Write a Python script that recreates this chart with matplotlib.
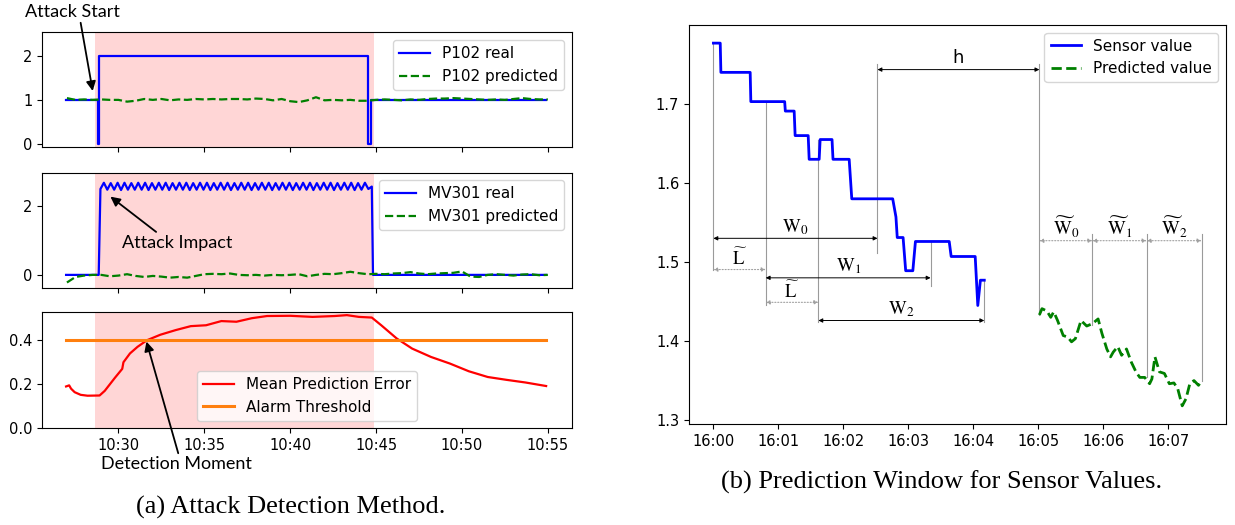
import numpy as np
import matplotlib
matplotlib.use("Agg")
import matplotlib.pyplot as plt
import matplotlib.dates as mdates

plt.rcParams['font.family'] = ['DejaVu Sans']
plt.rcParams['mathtext.fontset'] = 'stix'

# ---------------- data, panel (a): time in minutes after 10:00 ----------------
p102_real_t = [26.95, 28.78, 28.78, 28.89, 28.89, 44.53, 44.53, 44.71, 44.71, 54.9]
p102_real_v = [1, 1, 0, 0, 2, 2, 0, 0, 1, 1]

pred_t = np.arange(27.0, 55.01, 0.5)
p102_pred_v = [1.04, 1.00, 1.01, 1.00, 1.01, 1.00, 1.00, 0.96, 0.98, 1.02,
               1.00, 1.02, 0.99, 1.01, 1.00, 1.02, 1.01, 1.02, 1.01, 1.02,
               1.02, 1.01, 1.03, 1.02, 0.99, 1.02, 0.97, 0.95, 0.99, 1.06,
               0.99, 1.00, 0.99, 1.00, 0.98, 0.98, 1.00, 1.01, 1.00, 0.99,
               1.01, 1.00, 1.02, 1.03, 1.03, 1.04, 1.03, 1.02, 1.01, 1.00,
               1.01, 1.00, 1.02, 1.04, 1.02, 1.01, 1.01]

mv301_zig_t = np.arange(28.95, 44.76, 0.2)
mv301_zig_v = [2.48, 2.66, 2.46, 2.65, 2.46, 2.66, 2.45, 2.66, 2.46, 2.65,
               2.46, 2.66, 2.46, 2.66, 2.45, 2.65, 2.46, 2.66, 2.46, 2.66,
               2.45, 2.65, 2.46, 2.66, 2.46, 2.66, 2.45, 2.65, 2.46, 2.66,
               2.46, 2.66, 2.45, 2.65, 2.46, 2.66, 2.46, 2.66, 2.45, 2.65,
               2.46, 2.66, 2.46, 2.66, 2.45, 2.65, 2.46, 2.66, 2.46, 2.66,
               2.45, 2.65, 2.46, 2.66, 2.46, 2.66, 2.45, 2.65, 2.46, 2.66,
               2.46, 2.66, 2.45, 2.65, 2.46, 2.66, 2.46, 2.66, 2.45, 2.65,
               2.46, 2.66, 2.46, 2.66, 2.45, 2.65, 2.46, 2.66, 2.48, 2.55]
mv301_pre_t = [26.95, 28.85]
mv301_pre_v = [0.0, 0.0]
mv301_post_t = [44.82, 54.9]
mv301_post_v = [0.0, 0.0]

mv301_pred_v = [-0.22, -0.06, -0.02, 0.00, 0.00, -0.04, -0.02, 0.02, -0.03, -0.06,
                -0.03, -0.05, -0.08, -0.06, -0.08, -0.03, 0.02, 0.03, 0.02, 0.04,
                0.00, -0.01, 0.00, -0.02, 0.00, -0.01, 0.00, 0.02, -0.04, 0.00,
                0.03, 0.02, 0.05, 0.09, 0.05, 0.02, 0.03, 0.02, 0.04, 0.05,
                0.08, 0.04, 0.02, 0.04, 0.05, 0.06, 0.10, -0.05, -0.06, 0.00,
                0.02, 0.00, -0.02, 0.01, 0.02, -0.01, 0.00]

err_t = [26.95, 27.13, 27.24, 27.45, 27.80, 28.20, 28.90, 29.20, 29.80, 30.22,
         30.29, 30.67, 31.11, 31.66, 32.44, 33.33, 34.21, 35.10, 35.99, 36.87,
         37.76, 38.65, 40.00, 41.30, 42.60, 43.30, 44.00, 44.75, 45.30, 46.20,
         47.10, 48.20, 49.30, 50.40, 51.50, 52.60, 53.70, 54.90]
err_v = [0.190, 0.195, 0.180, 0.164, 0.152, 0.148, 0.149, 0.170, 0.230, 0.270,
         0.300, 0.340, 0.370, 0.400, 0.425, 0.446, 0.464, 0.468, 0.487, 0.484,
         0.500, 0.510, 0.511, 0.506, 0.510, 0.514, 0.506, 0.503, 0.468, 0.408,
         0.362, 0.324, 0.294, 0.259, 0.233, 0.220, 0.208, 0.192]
threshold_t = [26.95, 54.9]
threshold_v = [0.4, 0.4]
attack_span = (28.63, 44.86)

# ---------------- data, panel (b): minutes after 16:00 ----------------
sensor_t = [0, 0.105, 0.115, 0.566, 0.576, 1.097, 1.107, 1.243, 1.258, 1.459,
            1.474, 1.628, 1.643, 1.826, 1.841, 2.09, 2.13, 2.76, 2.81, 2.83,
            2.92, 2.96, 3.07, 3.11, 3.63, 3.66, 4.03, 4.07, 4.11, 4.17]
sensor_v = [1.777, 1.777, 1.740, 1.740, 1.703, 1.703, 1.691, 1.691, 1.660, 1.660,
            1.630, 1.630, 1.655, 1.655, 1.630, 1.630, 1.580, 1.580, 1.557, 1.531,
            1.531, 1.489, 1.489, 1.526, 1.526, 1.507, 1.507, 1.445, 1.477, 1.477]
predicted_t = [5.018, 5.058, 5.134, 5.193, 5.239, 5.298, 5.385, 5.455, 5.513, 5.572,
               5.659, 5.747, 5.834, 5.922, 5.980, 6.056, 6.114, 6.155, 6.225, 6.284,
               6.359, 6.435, 6.505, 6.564, 6.639, 6.715, 6.750, 6.797, 6.867, 6.943,
               7.019, 7.089, 7.147, 7.217, 7.275, 7.334, 7.398, 7.468, 7.515]
predicted_v = [1.433, 1.441, 1.438, 1.430, 1.437, 1.426, 1.407, 1.405, 1.399, 1.403,
               1.426, 1.419, 1.422, 1.428, 1.410, 1.390, 1.380, 1.386, 1.393, 1.382,
               1.390, 1.373, 1.361, 1.354, 1.354, 1.346, 1.352, 1.380, 1.361, 1.359,
               1.346, 1.347, 1.340, 1.318, 1.327, 1.346, 1.350, 1.344, 1.350]

# window annotations: (start, end, y, label)
w_spans = [(0.0, 2.526, 1.530, r'$\mathrm{W}_0$'),
           (0.805, 3.343, 1.480, r'$\mathrm{W}_1$'),
           (1.616, 4.17, 1.426, r'$\mathrm{W}_2$')]
l_spans = [(0.0, 0.805, 1.4905, r'$\widetilde{\mathrm{L}}$'),
           (0.805, 1.616, 1.449, r'$\widetilde{\mathrm{L}}$')]
h_span = (2.526, 5.018, 1.7435, 'h')
wt_spans = [(5.018, 5.834, 1.527, r'$\widetilde{\mathrm{W}}_0$'),
            (5.834, 6.669, 1.527, r'$\widetilde{\mathrm{W}}_1$'),
            (6.669, 7.515, 1.527, r'$\widetilde{\mathrm{W}}_2$')]
guides = [(0.0, 1.490, 1.777), (0.805, 1.445, 1.703), (1.616, 1.424, 1.655),
          (2.526, 1.511, 1.751), (3.343, 1.470, 1.526), (4.17, 1.424, 1.477),
          (5.018, 1.433, 1.751), (5.834, 1.420, 1.535), (6.669, 1.354, 1.535),
          (7.515, 1.350, 1.535)]


def T(hour, mins):
    base = np.datetime64('2019-01-01T%02d:00' % hour)
    ms = np.round(np.asarray(mins, dtype=float) * 60000).astype('timedelta64[ms]')
    return mdates.date2num(base + ms)


fig = plt.figure(figsize=(12.35, 5.25), dpi=100)
W, H = 1235, 525

ax1 = fig.add_axes([0.0340, 0.7194, 0.4291, 0.2187])
ax2 = fig.add_axes([0.0340, 0.452, 0.4291, 0.219], sharex=ax1)
ax3 = fig.add_axes([0.0340, 0.1842, 0.4291, 0.221], sharex=ax1)
axr = fig.add_axes([0.5579, 0.1924, 0.4348, 0.760])

span_kw = dict(color='red', alpha=0.16, lw=0)
for ax in (ax1, ax2, ax3):
    ax.axvspan(T(10, attack_span[0]), T(10, attack_span[1]), **span_kw)

ax1.plot(T(10, p102_real_t), p102_real_v, color='blue', lw=1.6, label='P102 real')
ax1.plot(T(10, pred_t), p102_pred_v, color='green', ls='--', lw=1.6, label='P102 predicted')
ax1.set_ylim(-0.07, 2.52)
ax1.set_yticks([0, 1, 2])
ax1.legend(loc='upper right', fontsize=11)

mv_t = np.concatenate([mv301_pre_t, mv301_zig_t, mv301_post_t])
mv_v = np.concatenate([mv301_pre_v, mv301_zig_v, mv301_post_v])
ax2.plot(T(10, mv_t), mv_v, color='blue', lw=1.6, label='MV301 real')
ax2.plot(T(10, pred_t), mv301_pred_v, color='green', ls='--', lw=1.6, label='MV301 predicted')
ax2.set_ylim(-0.37, 2.95)
ax2.set_yticks([0, 2])
ax2.legend(loc='upper right', fontsize=11)

ax3.plot(T(10, err_t), err_v, color='red', lw=1.6, label='Mean Prediction Error')
ax3.plot(T(10, threshold_t), threshold_v, color='C1', lw=2.2, label='Alarm Threshold')
ax3.set_ylim(0, 0.527)
ax3.set_yticks([0.0, 0.2, 0.4])
ax3.legend(loc='lower center', fontsize=11)

ax3.xaxis_date()
ax3.xaxis.set_major_locator(mdates.MinuteLocator(byminute=range(0, 60, 5)))
ax3.xaxis.set_major_formatter(mdates.DateFormatter('%H:%M'))
for ax in (ax1, ax2):
    plt.setp(ax.get_xticklabels(), visible=False)
for ax in (ax1, ax2, ax3, axr):
    ax.tick_params(labelsize=10.5)

arrow_kw = dict(arrowstyle='-|>', color='black', lw=1.3, mutation_scale=14, shrinkA=0, shrinkB=0)
ann_font = dict(family=['Lato', 'DejaVu Sans'], fontsize=13)

ax1.annotate('Attack Start', xy=(T(10, 28.5), 1.2), xytext=(72 / W, 1 - 12 / H),
             textcoords='figure fraction', ha='center', va='center',
             arrowprops=dict(relpos=(0.58, 0.2), **arrow_kw), annotation_clip=False, **ann_font)
ax2.annotate('Attack Impact', xy=(T(10, 29.53), 2.26), xytext=(T(10, 33.43), 0.93),
             ha='center', va='center',
             arrowprops=dict(relpos=(0.34, 1.0), **arrow_kw), **ann_font)
ax3.annotate('Detection Moment', xy=(T(10, 31.63), 0.394), xytext=(176 / W, 1 - 464 / H),
             textcoords='figure fraction', ha='center', va='center',
             arrowprops=dict(relpos=(0.52, 1.0), **arrow_kw), annotation_clip=False, **ann_font)

# ---------------- panel (b) ----------------
axr.plot(T(16, sensor_t), sensor_v, color='blue', lw=2.0, label='Sensor value')
axr.plot(T(16, predicted_t), predicted_v, color='green', ls='--', lw=2.0, label='Predicted value')
axr.xaxis_date()
axr.xaxis.set_major_locator(mdates.MinuteLocator())
axr.xaxis.set_major_formatter(mdates.DateFormatter('%H:%M'))
axr.set_yticks([1.3, 1.4, 1.5, 1.6, 1.7])
axr.legend(loc='upper right', fontsize=11)

for t, y0, y1 in guides:
    axr.plot([T(16, t)] * 2, [y0, y1], color='#9a9a9a', lw=0.8, zorder=1)

solid_kw = dict(arrowstyle='<|-|>', color='black', lw=0.7, mutation_scale=6, shrinkA=0, shrinkB=0)
dot_kw = dict(arrowstyle='<|-|>', color='#a0a0a0', lw=0.8, ls=':', mutation_scale=6, shrinkA=0, shrinkB=0)
serif_font = dict(fontsize=13.5)

for s, e, y, lab in w_spans:
    axr.annotate('', xy=(T(16, s), y), xytext=(T(16, e), y), arrowprops=solid_kw)
    axr.text((T(16, s) + T(16, e)) / 2, y + 0.002, lab, ha='center', va='bottom', **serif_font)
for s, e, y, lab in l_spans:
    axr.annotate('', xy=(T(16, s), y), xytext=(T(16, e), y), arrowprops=dot_kw)
    axr.text((T(16, s) + T(16, e)) / 2, y + 0.001, lab, ha='center', va='bottom', **serif_font)
for s, e, y, lab in wt_spans:
    axr.annotate('', xy=(T(16, s), y), xytext=(T(16, e), y), arrowprops=dot_kw)
    axr.text((T(16, s) + T(16, e)) / 2, y + 0.001, lab, ha='center', va='bottom', **serif_font)
s, e, y, lab = h_span
axr.annotate('', xy=(T(16, s), y), xytext=(T(16, e), y), arrowprops=solid_kw)
axr.text((T(16, s) + T(16, e)) / 2, y + 0.003, lab, ha='center', va='bottom', fontsize=13)

fig.text(291 / W, 1 - 507 / H, '(a) Attack Detection Method.', ha='center', va='center',
         family=['Liberation Serif'], fontsize=19)
fig.text(942 / W, 1 - 482 / H, '(b) Prediction Window for Sensor Values.', ha='center', va='center',
         family=['Liberation Serif'], fontsize=19)

fig.savefig('out.png', dpi=100)
